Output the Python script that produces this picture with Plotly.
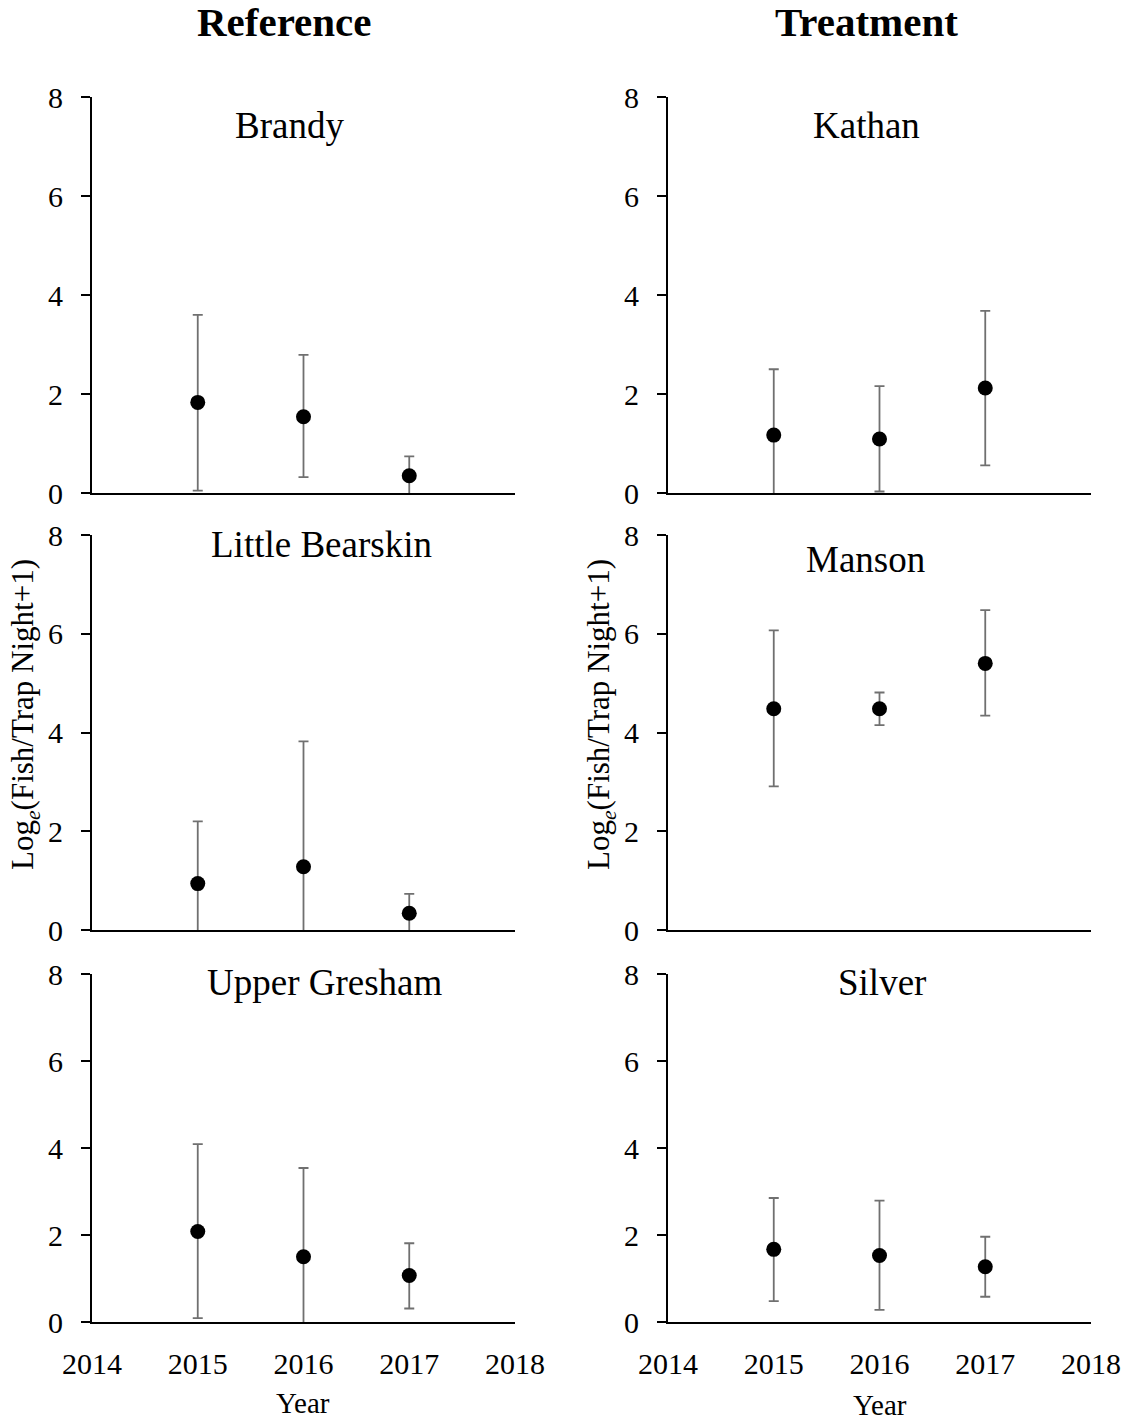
import plotly.graph_objects as go
from plotly.subplots import make_subplots

YEARS = [2015, 2016, 2017]
X_TICKS = [2014, 2015, 2016, 2017, 2018]
Y_TICKS = [0, 2, 4, 6, 8]

# mean and error-bar ends (lower ends below 0 are hidden by the axis)
BRANDY_MEAN = [1.83, 1.54, 0.35]
BRANDY_UPPER = [3.60, 2.79, 0.74]
BRANDY_LOWER = [0.05, 0.32, -0.05]

KATHAN_MEAN = [1.17, 1.09, 2.12]
KATHAN_UPPER = [2.50, 2.16, 3.68]
KATHAN_LOWER = [-0.15, 0.03, 0.56]

BEARSKIN_MEAN = [0.94, 1.28, 0.34]
BEARSKIN_UPPER = [2.20, 3.82, 0.73]
BEARSKIN_LOWER = [-0.30, -1.25, -0.05]

MANSON_MEAN = [4.48, 4.48, 5.40]
MANSON_UPPER = [6.07, 4.81, 6.48]
MANSON_LOWER = [2.91, 4.15, 4.34]

GRESHAM_MEAN = [2.08, 1.50, 1.07]
GRESHAM_UPPER = [4.09, 3.54, 1.81]
GRESHAM_LOWER = [0.09, -0.50, 0.31]

SILVER_MEAN = [1.67, 1.53, 1.27]
SILVER_UPPER = [2.85, 2.79, 1.96]
SILVER_LOWER = [0.48, 0.28, 0.58]

FONT = "Liberation Serif, Times New Roman, serif"
W, H = 1128, 1422

# (title, mean, upper, lower, row, col, title x px, title y px)
panels = [
    ("Brandy", BRANDY_MEAN, BRANDY_UPPER, BRANDY_LOWER, 1, 1, 289, 125),
    ("Kathan", KATHAN_MEAN, KATHAN_UPPER, KATHAN_LOWER, 1, 2, 866, 125),
    ("Little Bearskin", BEARSKIN_MEAN, BEARSKIN_UPPER, BEARSKIN_LOWER, 2, 1, 321, 545),
    ("Manson", MANSON_MEAN, MANSON_UPPER, MANSON_LOWER, 2, 2, 865, 560),
    ("Upper Gresham", GRESHAM_MEAN, GRESHAM_UPPER, GRESHAM_LOWER, 3, 1, 324, 983),
    ("Silver", SILVER_MEAN, SILVER_UPPER, SILVER_LOWER, 3, 2, 882, 983),
]

# pixel positions of the plot areas
col_px = {1: (92, 515), 2: (668, 1091)}
row_px = {1: (97, 493), 2: (535, 930), 3: (974, 1322)}


def px_x(x):
    return x / W


def px_y(y):
    return 1 - y / H


fig = make_subplots(rows=3, cols=2)

for title, mean, upper, lower, r, c, tx, ty in panels:
    fig.add_trace(
        go.Scatter(
            x=YEARS,
            y=mean,
            mode="markers",
            marker=dict(color="black", size=15),
            error_y=dict(
                type="data",
                symmetric=False,
                array=[u - m for u, m in zip(upper, mean)],
                arrayminus=[m - l for m, l in zip(mean, lower)],
                color="#707070",
                thickness=1.8,
                width=5,
            ),
            showlegend=False,
        ),
        row=r,
        col=c,
    )
    n = (r - 1) * 2 + c
    xa = "xaxis" if n == 1 else f"xaxis{n}"
    ya = "yaxis" if n == 1 else f"yaxis{n}"
    x0, x1 = col_px[c]
    y0, y1 = row_px[r]
    fig.layout[xa].update(
        domain=[px_x(x0), px_x(x1)],
        showticklabels=(r == 3),
    )
    fig.layout[ya].update(domain=[px_y(y1), px_y(y0)])
    fig.add_annotation(
        text=title, x=px_x(tx), y=px_y(ty), xref="paper", yref="paper",
        showarrow=False, xanchor="center", yanchor="middle",
        font=dict(family=FONT, size=37, color="black"),
    )

tick_font = dict(family=FONT, size=30, color="black")
fig.update_xaxes(
    range=[2014, 2018],
    tickmode="array",
    tickvals=X_TICKS,
    ticktext=[str(v) for v in X_TICKS],
    ticks="",
    showline=True,
    linecolor="black",
    linewidth=2,
    showgrid=False,
    zeroline=False,
    automargin=False,
    tickfont=tick_font,
    ticklabelstandoff=14,
)
fig.update_yaxes(
    range=[0, 8],
    tickmode="array",
    tickvals=Y_TICKS,
    ticktext=[str(v) for v in Y_TICKS],
    ticks="outside",
    ticklen=9,
    tickwidth=2,
    tickcolor="black",
    showline=True,
    linecolor="black",
    linewidth=2,
    showgrid=False,
    zeroline=False,
    automargin=False,
    tickfont=tick_font,
    ticklabelstandoff=12,
)

# column headers
for text, cx in [("Reference", 284), ("Treatment", 866)]:
    fig.add_annotation(
        text=f"<b>{text}</b>", x=px_x(cx), y=px_y(22), xref="paper", yref="paper",
        showarrow=False, xanchor="center", yanchor="middle",
        font=dict(family=FONT, size=41, color="black"),
    )

# y-axis titles on the middle row
for cx in [25, 601]:
    fig.add_annotation(
        text="Log<sub><i>e</i></sub>(Fish/Trap Night+1)", x=px_x(cx), y=px_y(715),
        xref="paper", yref="paper", showarrow=False, textangle=-90,
        xanchor="center", yanchor="middle",
        font=dict(family=FONT, size=31, color="black"),
    )

# x-axis titles on the bottom row
for cx, cy in [(303, 1403), (880, 1405)]:
    fig.add_annotation(
        text="Year", x=px_x(cx), y=px_y(cy), xref="paper", yref="paper",
        showarrow=False, xanchor="center", yanchor="middle",
        font=dict(family=FONT, size=29, color="black"),
    )

fig.update_layout(
    template="none",
    width=W,
    height=H,
    margin=dict(l=0, r=0, t=0, b=0, autoexpand=False),
    font=dict(family=FONT, color="black"),
    plot_bgcolor="white",
    paper_bgcolor="white",
    showlegend=False,
)

fig.write_html(
    "out.html",
    config={"displayModeBar": False},
    post_script="document.body.style.margin='0px';document.body.style.overflow='hidden';",
)
